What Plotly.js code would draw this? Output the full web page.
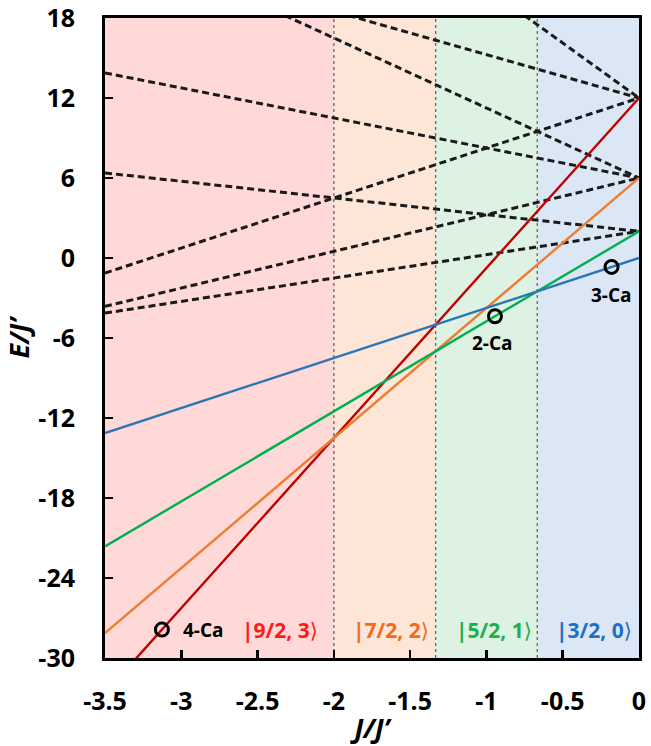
<!DOCTYPE html>
<html>
<head>
<meta charset="utf-8">
<script src="https://cdn.plot.ly/plotly-3.0.1.min.js"></script>
<style>html,body{margin:0;padding:0;background:#fff;}</style>
</head>
<body>
<div id="chart" style="width:651px;height:746px;"></div>
<script>
// x end points of every level line (J/J')
const lineX = [-3.5, 0];

// ground-state level lines (E/J' read at J/J' = -3.5 and 0)
const solidNames = ["|9/2, 3⟩", "|7/2, 2⟩", "|5/2, 1⟩", "|3/2, 0⟩"];
const solidY = [
  [-32.63, 12],
  [-28.13, 6],
  [-21.63, 2],
  [-13.13, 0]
];

// excited level lines (dashed)
const dashedY = [
  [-1.13, 12],
  [23.38, 12],
  [40.88, 12],
  [-3.63, 6],
  [13.88, 6],
  [24.38, 6],
  [-4.13, 2],
  [6.38, 2]
];

// ground-state regions
const regionEdges = [-3.5, -2, -1.333, -0.667, 0];
const regionKets = ["9/2, 3", "7/2, 2", "5/2, 1", "3/2, 0"];

// Ca positions
const caX = [-3.127, -0.944, -0.18];
const caY = [-27.87, -4.37, -0.67];
const caNames = ["4-Ca", "2-Ca", "3-Ca"];

// axis ticks
const xTicks = [-3.5, -3, -2.5, -2, -1.5, -1, -0.5, 0];
const xTickText = ["-3.5", "-3", "-2.5", "-2", "-1.5", "-1", "-0.5", "0"];
const yTicks = [-30, -24, -18, -12, -6, 0, 6, 12, 18];
const yTickText = ["-30", "-24", "-18", "-12", "-6", "0", "6", "12", "18"];

const solidColors = ["#C00000", "#ED7D31", "#00B050", "#2E75B6"];
const labelColors = ["#FF1A1A", "#F26B1D", "#1DAF4B", "#1F6FC5"];
const bandColors = ["#FFD8D8", "#FDE5D7", "#DDF2E3", "#DBE7F4"];
const FONT = "Open Sans, Noto Sans, DejaVu Sans, sans-serif";

const traces = [];
dashedY.forEach((yy) => {
  traces.push({
    x: lineX, y: yy, mode: "lines", type: "scatter", showlegend: false,
    hoverinfo: "skip",
    line: {color: "#1a1a1a", width: 3, dash: "7px,4px"}
  });
});
solidY.forEach((yy, i) => {
  traces.push({
    x: lineX, y: yy, mode: "lines", type: "scatter", showlegend: false,
    name: solidNames[i],
    line: {color: solidColors[i], width: 2.4}
  });
});
traces.push({
  x: caX, y: caY, mode: "markers", type: "scatter", showlegend: false,
  marker: {symbol: "circle-open", size: 13, color: "#000", line: {width: 3, color: "#000"}},
  cliponaxis: false
});

const shapes = [];
for (let i = 0; i < regionKets.length; i++) {
  shapes.push({
    type: "rect", xref: "x", yref: "paper", layer: "below",
    x0: regionEdges[i], x1: regionEdges[i + 1], y0: 0, y1: 1,
    fillcolor: bandColors[i], line: {width: 0}
  });
}
for (let i = 1; i < regionEdges.length - 1; i++) {
  shapes.push({
    type: "line", xref: "x", yref: "paper", layer: "below",
    x0: regionEdges[i], x1: regionEdges[i], y0: 0, y1: 1,
    line: {color: "#666", width: 1.3, dash: "dot"}
  });
}

const annotations = [];
const labelMid = [-2.356, -1.624, -0.951, -0.297];
for (let i = 0; i < regionKets.length; i++) {
  annotations.push({
    x: labelMid[i], y: -27.9, xref: "x", yref: "y",
    text: "|" + regionKets[i] + "<span style=\"font-family:DejaVu Sans;font-weight:normal\">⟩</span>",
    showarrow: false,
    font: {family: FONT, size: 21, color: labelColors[i], weight: "bold"}
  });
}
const caOff = [[42, 0], [-2, -27], [0, -28]];
caNames.forEach((n, i) => {
  annotations.push({
    x: caX[i], y: caY[i], xref: "x", yref: "y", text: n, showarrow: false,
    xshift: caOff[i][0], yshift: caOff[i][1],
    font: {family: FONT, size: 19, color: "#000", weight: "bold"}
  });
});

const layout = {
  width: 651, height: 746,
  margin: {l: 105, r: 12, t: 18, b: 88},
  paper_bgcolor: "#fff", plot_bgcolor: "rgba(0,0,0,0)",
  showlegend: false,
  font: {family: FONT, color: "#000"},
  xaxis: {
    range: [-3.5, 0], tickvals: xTicks, ticktext: xTickText,
    ticks: "inside", ticklen: 8, tickwidth: 2.5, tickcolor: "#000",
    showline: true, linewidth: 3, linecolor: "#000", mirror: true,
    showgrid: false, zeroline: false,
    ticklabelstandoff: 19, ticklabeloverflow: "allow",
    tickfont: {family: FONT, size: 25, color: "#000", weight: "bold"},
    title: {text: "J/J’", standoff: 6, font: {family: FONT, size: 27, color: "#000", weight: "bold", style: "italic"}}
  },
  yaxis: {
    range: [-30, 18.0001], tickvals: yTicks, ticktext: yTickText,
    ticks: "inside", ticklen: 8, tickwidth: 2.5, tickcolor: "#000",
    showline: true, linewidth: 3, linecolor: "#000", mirror: true,
    showgrid: false, zeroline: false,
    ticklabelstandoff: 22, ticklabeloverflow: "allow",
    tickfont: {family: FONT, size: 25, color: "#000", weight: "bold"},
    title: {text: "E/J’", standoff: 5, font: {family: FONT, size: 27, color: "#000", weight: "bold", style: "italic"}}
  },
  shapes: shapes,
  annotations: annotations
};

Plotly.newPlot("chart", traces, layout, {displayModeBar: false, staticPlot: true});
</script>
</body>
</html>
